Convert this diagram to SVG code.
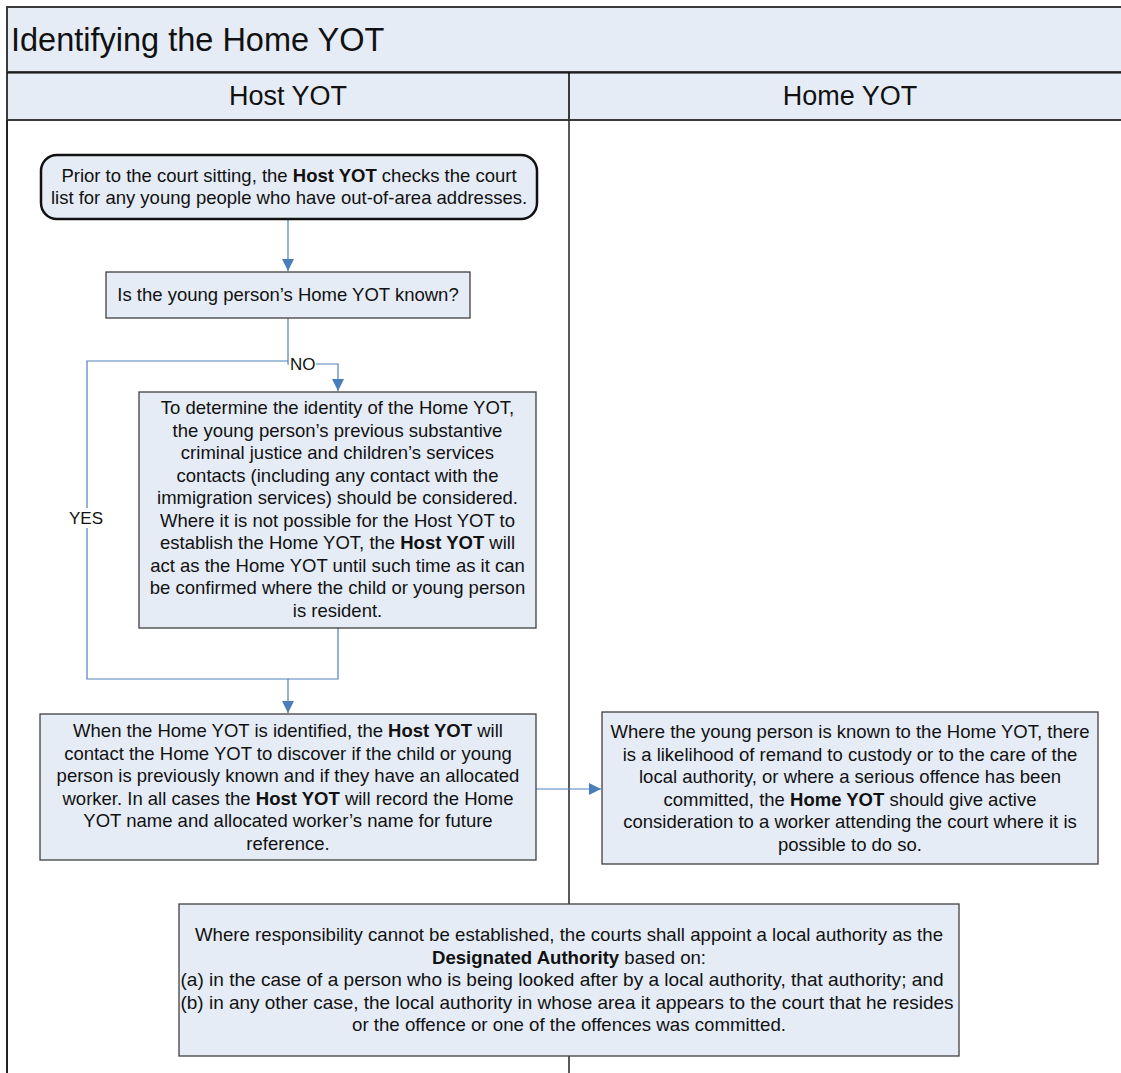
<svg xmlns="http://www.w3.org/2000/svg" width="1121" height="1073" viewBox="0 0 1121 1073">
<defs>
<style>
.lane{fill:#e5ecf6;stroke:#3a3a3a;stroke-width:2}
.box{fill:#e5ecf6;stroke:#404040;stroke-width:1.3}
.start{fill:#e5ecf6;stroke:#111;stroke-width:2.5}
.t{font-family:"Liberation Sans",Arial,sans-serif;font-size:18.5px;fill:#111;text-anchor:middle}
.n{font-family:"Liberation Sans Narrow","Liberation Sans",Arial,sans-serif;font-size:18.5px;fill:#111;text-anchor:middle}
.b{font-weight:bold}
.c{fill:none;stroke:#4f81bd;stroke-width:1.2}
.lbl{font-family:"Liberation Sans",Arial,sans-serif;font-size:17px;fill:#111}
</style>
<marker id="ah" viewBox="0 0 10 10" refX="10" refY="5" markerWidth="12" markerHeight="12" markerUnits="userSpaceOnUse" orient="auto">
<path d="M0,0 L10,5 L0,10 z" fill="#4a7ebb"/>
</marker>
</defs>
<rect width="1121" height="1073" fill="#fff"/>
<g id="swimlanes">
<rect class="lane" x="7" y="7" width="1120" height="65"/>
<text x="11" y="51" font-family="Liberation Sans,Arial,sans-serif" font-size="32.5" fill="#111">Identifying the Home YOT</text>
<rect class="lane" x="7" y="72" width="562" height="48"/>
<rect class="lane" x="569" y="72" width="560" height="48"/>
<line x1="7" y1="73" x2="1121" y2="73" stroke="#000" stroke-width="1"/>
<text x="288" y="105" font-family="Liberation Sans,Arial,sans-serif" font-size="27" fill="#111" text-anchor="middle">Host YOT</text>
<text x="850" y="105" font-family="Liberation Sans,Arial,sans-serif" font-size="27" fill="#111" text-anchor="middle">Home YOT</text>
<line x1="7" y1="120" x2="7" y2="1073" stroke="#222" stroke-width="2"/>
<line x1="569" y1="120" x2="569" y2="1073" stroke="#222" stroke-width="1.5"/>
</g>
<g id="connectors">
<path class="c" d="M288,219 V271" marker-end="url(#ah)"/>
<path class="c" d="M288,318 V364 H338 V391" marker-end="url(#ah)"/>
<path class="c" d="M288,361 H87 V679 H288 V713" marker-end="url(#ah)"/>
<path class="c" d="M338,628 V679 H288"/>
<path class="c" d="M536,789 H601" marker-end="url(#ah)"/>
<rect x="289" y="356" width="27" height="17" fill="#fff"/>
<text class="lbl" x="290" y="370">NO</text>
<rect x="66" y="508" width="40" height="20" fill="#fff"/>
<text class="lbl" x="86" y="524" text-anchor="middle">YES</text>
</g>
<g id="start">
<rect class="start" x="41" y="155" width="496" height="64" rx="16" ry="16"/>
<text class="t" x="289" y="182">Prior to the court sitting, the <tspan class="b">Host YOT</tspan> checks the court</text>
<text class="t" x="289" y="204">list for any young people who have out-of-area addresses.</text>
</g>
<g id="decision">
<rect class="box" x="106" y="272" width="364" height="46"/>
<text class="t" x="288" y="301">Is the young person’s Home YOT known?</text>
</g>
<g id="determine">
<rect class="box" x="139" y="392" width="397" height="236"/>
<text class="t" x="337.5" y="414">To determine the identity of the Home YOT,</text>
<text class="t" x="337.5" y="436.5">the young person’s previous substantive</text>
<text class="t" x="337.5" y="459">criminal justice and children’s services</text>
<text class="t" x="337.5" y="481.5">contacts (including any contact with the</text>
<text class="t" x="337.5" y="504">immigration services) should be considered.</text>
<text class="t" x="337.5" y="526.5">Where it is not possible for the Host YOT to</text>
<text class="t" x="337.5" y="549">establish the Home YOT, the <tspan class="b">Host YOT</tspan> will</text>
<text class="t" x="337.5" y="571.5">act as the Home YOT until such time as it can</text>
<text class="t" x="337.5" y="594">be confirmed where the child or young person</text>
<text class="t" x="337.5" y="616.5">is resident.</text>
</g>
<g id="contact">
<rect class="box" x="40" y="714" width="496" height="146"/>
<text class="t" x="288" y="737">When the Home YOT is identified, the <tspan class="b">Host YOT</tspan> will</text>
<text class="t" x="288" y="759.5">contact the Home YOT to discover if the child or young</text>
<text class="t" x="288" y="782">person is previously known and if they have an allocated</text>
<text class="t" x="288" y="804.5">worker. In all cases the <tspan class="b">Host YOT</tspan> will record the Home</text>
<text class="t" x="288" y="827">YOT name and allocated worker’s name for future</text>
<text class="t" x="288" y="849.5">reference.</text>
</g>
<g id="homeyot">
<rect class="box" x="602" y="712" width="496" height="152"/>
<text class="t" x="850" y="738">Where the young person is known to the Home YOT, there</text>
<text class="t" x="850" y="760.5">is a likelihood of remand to custody or to the care of the</text>
<text class="t" x="850" y="783">local authority, or where a serious offence has been</text>
<text class="t" x="850" y="805.5">committed, the <tspan class="b">Home YOT</tspan> should give active</text>
<text class="t" x="850" y="828">consideration to a worker attending the court where it is</text>
<text class="t" x="850" y="850.5">possible to do so.</text>
</g>
<g id="designated">
<rect class="box" x="179" y="904" width="780" height="152"/>
<text class="n" x="569" y="941" textLength="748" lengthAdjust="spacingAndGlyphs">Where responsibility cannot be established, the courts shall appoint a local authority as the</text>
<text class="n" x="569" y="963.5" textLength="274" lengthAdjust="spacingAndGlyphs"><tspan class="b">Designated Authority</tspan> based on:</text>
<text class="n" x="562" y="986" textLength="763" lengthAdjust="spacingAndGlyphs">(a) in the case of a person who is being looked after by a local authority, that authority; and</text>
<text class="n" x="567" y="1008.5" textLength="773" lengthAdjust="spacingAndGlyphs">(b) in any other case, the local authority in whose area it appears to the court that he resides</text>
<text class="n" x="569" y="1031" textLength="434" lengthAdjust="spacingAndGlyphs">or the offence or one of the offences was committed.</text>
</g>
</svg>
